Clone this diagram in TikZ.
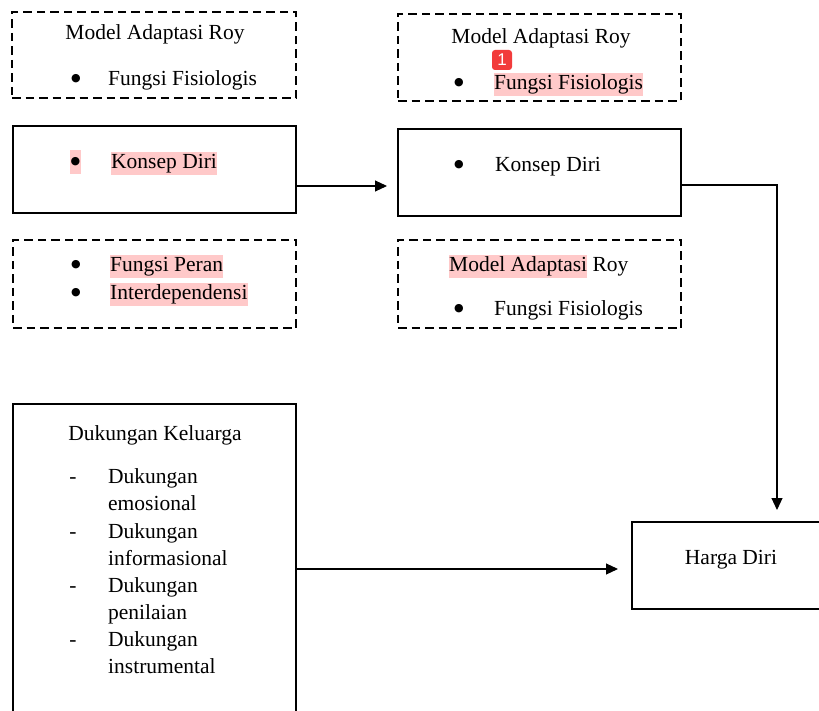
\documentclass[tikz,border=0pt]{standalone}
\usepackage{fontspec}
\setmainfont{Liberation Serif}
\newfontfamily\badgefont{Liberation Sans}
\newfontfamily\symfont{DejaVu Sans}
\usetikzlibrary{arrows.meta,calc}
\definecolor{hlpink}{HTML}{FFC9C9}
\definecolor{badgered}{HTML}{F23B3B}
\setlength{\fboxsep}{0pt}
\newcommand\hlt[1]{\colorbox{hlpink}{\rule[-6pt]{0pt}{23pt}#1}}
\begin{document}
\begin{tikzpicture}[x=1pt,y=-1pt,
  every node/.style={font=\fontsize{21.5}{27}\selectfont, inner sep=0pt},
  dashbox/.style={draw, line width=2pt, dash pattern=on 8.5pt off 5pt, minimum width=#1},
  solidbox/.style={draw, line width=2pt},
  txt/.style={anchor=base west},
  ttl/.style={anchor=base},
  dot/.style={anchor=center, font=\symfont\fontsize{11}{11}\selectfont},
  conn/.style={line width=1.1pt, -{Triangle[length=12pt,width=11pt]}}
]
\clip (0,0) rectangle (819,711);
\fill[white] (0,0) rectangle (819,711);

% left column boxes
\node[dashbox=284pt, minimum height=86pt] (tl) at (154,55) {};
\node[solidbox, minimum width=283pt, minimum height=87pt] (ls) at (154.5,169.5) {};
\node[dashbox=283pt, minimum height=88pt] (ld) at (154.5,284) {};
\node[solidbox, minimum width=283pt, minimum height=336pt] (bl) at (154.5,572) {};

% right column boxes
\node[dashbox=283pt, minimum height=87pt] (tr) at (539.5,57.5) {};
\node[solidbox, minimum width=283pt, minimum height=87pt] (rs) at (539.5,172.5) {};
\node[dashbox=283pt, minimum height=88pt] (rd) at (539.5,284) {};
\node[solidbox, minimum width=240pt, minimum height=87pt, anchor=west] (hd) at (631,565.5) {};

% texts: top-left
\node[ttl] (tlt) at (155,40) {Model Adaptasi Roy};
\node[dot] (tlb) at (76,79) {●};
\node[txt] (tlx) at (108,86) {Fungsi Fisiologis};

% texts: top-right
\node[ttl] (trt) at (541,44) {Model Adaptasi Roy};
\node[dot] (trb) at (459,83) {●};
\node[txt] (trx) at (494,90) {\hlt{Fungsi Fisiologis}};
\node[fill=badgered, rounded corners=3pt, minimum width=20pt, minimum height=20pt,
      text=white, font=\badgefont\fontsize{17}{17}\selectfont] (badge) at (502,60) {1};

% texts: konsep diri boxes
\fill[hlpink] (70,150) rectangle (81,174);
\node[dot] (lsb) at (75.5,162) {●};
\node[txt] (lsx) at (111,169) {\hlt{Konsep Diri}};
\node[dot] (rsb) at (459,165) {●};
\node[txt] (rsx) at (495,172) {Konsep Diri};

% texts: lower dashed boxes
\node[dot] (ldb1) at (76,265) {●};
\node[txt] (ldx1) at (110,272) {\hlt{Fungsi Peran}};
\node[dot] (ldb2) at (76,293) {●};
\node[txt] (ldx2) at (110,300) {\hlt{Interdependensi}};
\node[txt] (rdt) at (449,272) {\hlt{Model Adaptasi} Roy};
\node[dot] (rdb) at (459,309) {●};
\node[txt] (rdx) at (494,316) {Fungsi Fisiologis};

% texts: family support
\node[ttl] (blt) at (155,440) {Dukungan Keluarga};
\foreach \i/\y in {1/483, 2/538, 3/592, 4/646}
  \node[ttl] (bld\i) at (73,\y) {-};
\node[txt] (bl1) at (108,483) {Dukungan};
\node[txt] (bl1b) at (108,510) {emosional};
\node[txt] (bl2) at (108,538) {Dukungan};
\node[txt] (bl2b) at (108,565) {informasional};
\node[txt] (bl3) at (108,592) {Dukungan};
\node[txt] (bl3b) at (108,619) {penilaian};
\node[txt] (bl4) at (108,646) {Dukungan};
\node[txt] (bl4b) at (108,673) {instrumental};

% texts: harga diri
\node[ttl] (hdt) at (731,564) {Harga Diri};

% connectors
\draw[conn, shorten >=10pt] ($(ls.east)+(0,16.5)$) -- ($(rs.west)+(0,13.5)$);
\draw[conn, shorten >=11pt] ($(rs.east)+(0,12.5)$) -| ($(hd.north west)+(146,0)$);
\draw[conn, shorten >=13pt] ($(bl.east)+(0,-3)$) -- ($(hd.west)+(0,3.5)$);
\end{tikzpicture}
\end{document}
